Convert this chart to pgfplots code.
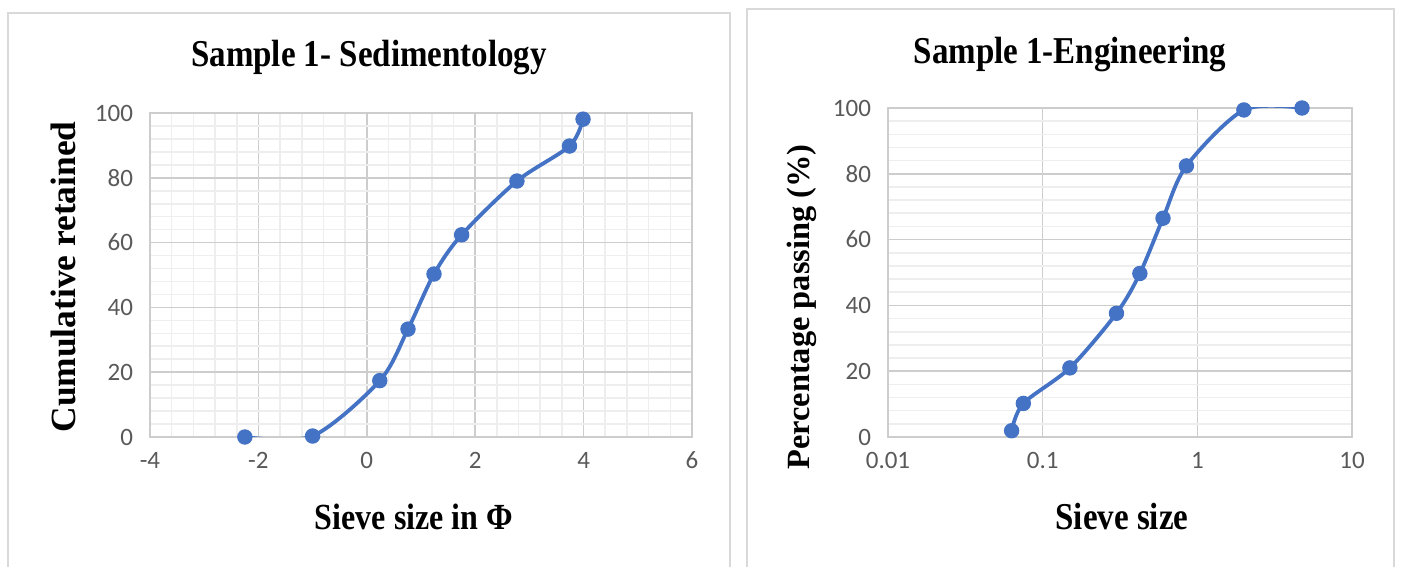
\documentclass[border=0pt]{standalone}
\usepackage{pgfplots}
\pgfplotsset{compat=1.18}
\usepackage{fontspec}
\setmainfont{Liberation Serif}
\newfontfamily\tickfont{Carlito}
\definecolor{exblue}{RGB}{68,114,196}
\definecolor{majg}{RGB}{205,205,205}
\definecolor{ming}{RGB}{238,238,238}
\definecolor{tickc}{RGB}{89,89,89}
\definecolor{framec}{RGB}{217,217,217}
\pgfplotsset{
  common/.style={
    scale only axis,
    axis line style={majg, line width=0.8pt},
    grid=both,
    major grid style={majg, line width=0.8pt},
    minor grid style={ming, line width=0.8pt},
    tick style={draw=none},
    ticklabel style={font=\fontsize{12.5}{13}\selectfont\tickfont, text=tickc},
    /pgf/number format/assume math mode=true,
    ymin=0, ymax=100, ytick={0,20,...,100},
    minor y tick num=4,
    yticklabel style={xshift=-5pt},
    xticklabel style={yshift=-4pt},
  },
  ser/.style={exblue, line width=1.9pt, smooth, tension=0.5, mark=*, mark size=3.6pt, mark options={fill=exblue, draw=exblue, line width=0.5pt}},
}
\begin{document}
\begin{tikzpicture}
\useasboundingbox (0,0) rectangle (701pt,283.5pt);
\draw[framec, line width=1pt] (4pt,-5pt) -- (4pt,277pt) -- (365pt,277pt) -- (365pt,-5pt);
\draw[framec, line width=1pt] (373.5pt,-5pt) -- (373.5pt,279pt) -- (697pt,279pt) -- (697pt,-5pt);
\begin{axis}[common, at={(75pt,65pt)}, anchor=south west, width=271pt, height=162pt,
  xmin=-4, xmax=6, xtick={-4,-2,...,6}, minor x tick num=4]
\addplot[ser] coordinates {
(-2.25,0) (-1.0,0.3) (0.24,17.4) (0.76,33.3) (1.24,50.3) (1.75,62.4) (2.77,79.0) (3.74,89.8) (3.99,98.1)
};
\end{axis}
\begin{axis}[common, at={(444pt,65pt)}, anchor=south west, width=232pt, height=164.5pt,
  xmode=log, xmin=0.01, xmax=10, xtick={0.01,0.1,1,10}, xticklabels={0.01,0.1,1,10},
  log basis x=10]
\addplot[ser] coordinates {
(0.063,1.9) (0.075,10.2) (0.15,21.0) (0.3,37.6) (0.425,49.7) (0.6,66.5) (0.85,82.4) (2.0,99.4) (4.75,100)
};
\end{axis}
\node[font=\fontsize{16.5}{17}\selectfont\bfseries, yscale=1.15] at (184.5pt,254.5pt) {Sample 1- Sedimentology};
\node[font=\fontsize{16.5}{17}\selectfont\bfseries, yscale=1.15] at (535pt,256pt) {Sample 1-Engineering};
\node[font=\fontsize{16}{17}\selectfont\bfseries, yscale=1.15] at (207pt,25pt) {Sieve size in Φ};
\node[font=\fontsize{16.5}{17}\selectfont\bfseries, yscale=1.15] at (561pt,25pt) {Sieve size};
\node[font=\fontsize{17.7}{18}\selectfont\bfseries, rotate=90] at (31.5pt,145pt) {Cumulative retained};
\node[font=\fontsize{16.2}{17}\selectfont\bfseries, rotate=90] at (401pt,130pt) {Percentage passing (\%)};
\end{tikzpicture}
\end{document}
